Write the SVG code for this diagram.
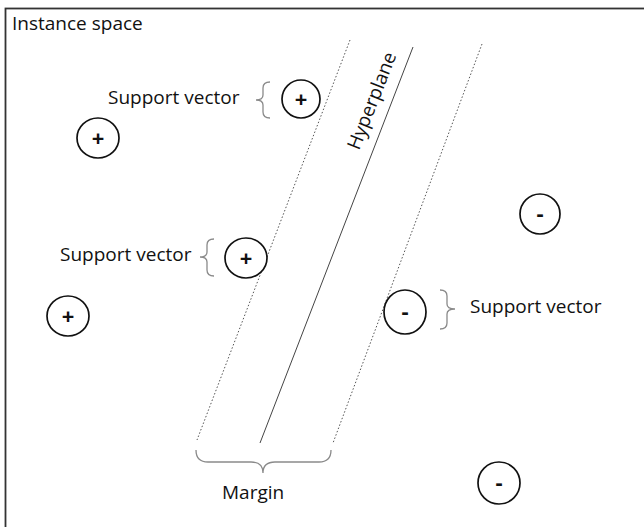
<svg xmlns="http://www.w3.org/2000/svg" width="644" height="527" viewBox="0 0 644 527">
  <style>
    .lbl { font-family: "Open Sans", "Noto Sans", sans-serif; font-size: 19px; fill: #111; }
    .sym { font-family: "Open Sans", "Noto Sans", sans-serif; font-size: 22px; font-weight: bold; fill: #111; text-anchor: middle; }
    .pt { fill: #fff; stroke: #111; stroke-width: 1.7; }
    .brace { fill: none; stroke: #8a8a8a; stroke-width: 1.3; }
    .margin { fill: none; stroke: #555; stroke-width: 1; stroke-dasharray: 1.5 2; }
    .plane { fill: none; stroke: #444; stroke-width: 1; }
  </style>

  <!-- frame of the instance space -->
  <rect x="5.5" y="8.5" width="660" height="540" fill="#fff" stroke="#333" stroke-width="1.8"/>
  <text class="lbl" x="12" y="30">Instance space</text>

  <!-- separating hyperplane and margin boundaries -->
  <g id="connectors">
    <line class="margin" x1="350" y1="40" x2="197" y2="440"/>
    <line class="plane" x1="413" y1="47" x2="260" y2="443"/>
    <line class="margin" x1="482" y1="44" x2="333" y2="443"/>
  </g>

  <text class="lbl" transform="translate(359,151) rotate(-68.5)">Hyperplane</text>

  <!-- positive samples -->
  <g id="pos1">
    <ellipse class="pt" cx="301" cy="99" rx="19" ry="19"/>
    <text class="sym" x="301" y="106.5">+</text>
  </g>
  <g id="pos2">
    <ellipse class="pt" cx="98" cy="138" rx="21" ry="20"/>
    <text class="sym" x="98" y="145.5">+</text>
  </g>
  <g id="pos3">
    <ellipse class="pt" cx="246" cy="258" rx="21" ry="20"/>
    <text class="sym" x="246" y="265.5">+</text>
  </g>
  <g id="pos4">
    <ellipse class="pt" cx="68" cy="316" rx="21" ry="20"/>
    <text class="sym" x="68" y="323.5">+</text>
  </g>

  <!-- negative samples -->
  <g id="neg1">
    <ellipse class="pt" cx="540" cy="214" rx="20" ry="20"/>
    <text class="sym" x="540" y="221">-</text>
  </g>
  <g id="neg2">
    <ellipse class="pt" cx="405" cy="312" rx="21" ry="22"/>
    <text class="sym" x="405" y="319">-</text>
  </g>
  <g id="neg3">
    <ellipse class="pt" cx="499" cy="483" rx="21" ry="21"/>
    <text class="sym" x="499" y="490">-</text>
  </g>

  <!-- support vector annotations -->
  <g id="sv1">
    <path class="brace" d="M270,82 Q263,82 263,88 L263,95 Q263,100 256,100 Q263,100 263,105 L263,112 Q263,118 270,118"/>
    <text class="lbl" x="108" y="104">Support vector</text>
  </g>
  <g id="sv2">
    <path class="brace" d="M214,239 Q207,239 207,245 L207,252 Q207,257 200,257 Q207,257 207,262 L207,270 Q207,276 214,276"/>
    <text class="lbl" x="60" y="261">Support vector</text>
  </g>
  <g id="sv3">
    <path class="brace" d="M440,290 Q447,290 447,296 L447,304 Q447,309 455,309 Q447,309 447,314 L447,323 Q447,329 440,329"/>
    <text class="lbl" x="470" y="313">Support vector</text>
  </g>

  <!-- margin annotation -->
  <g id="margin">
    <path class="brace" d="M196,450 Q196,462 208,462 L251,462 Q263,462 263,473 Q263,462 275,462 L319,462 Q331,462 331,450"/>
    <text class="lbl" x="222" y="499">Margin</text>
  </g>
</svg>
